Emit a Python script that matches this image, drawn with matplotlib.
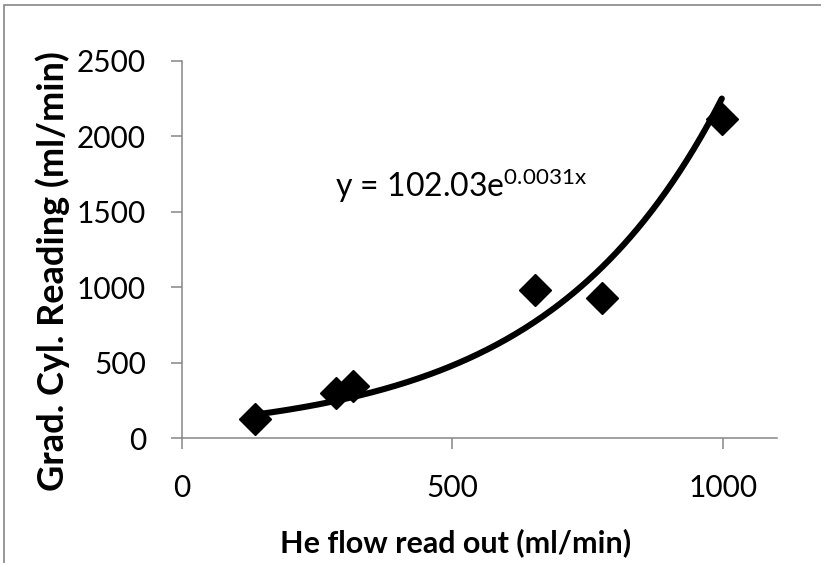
import numpy as np
import matplotlib
matplotlib.use("Agg")
import matplotlib.pyplot as plt
from matplotlib.patches import Rectangle

# data
he_flow = [135, 284, 317, 653, 777, 998]
grad_cyl = [126, 298, 345, 981, 928, 2115]

# exponential trendline as shown on the chart
FIT_A = 102.03
FIT_B = 0.0031
fit_label = r"y = 102.03e$\mathregular{^{0.0031x}}$"

x_ticks = [0, 500, 1000]
y_ticks = [0, 500, 1000, 1500, 2000, 2500]

AXIS_GRAY = "#868686"

plt.rcParams["font.family"] = ["Lato", "DejaVu Sans"]


def main():
    fig = plt.figure(figsize=(8.21, 5.63), dpi=100, facecolor="white")
    ax = fig.add_axes([182 / 821, 1 - 438 / 563, (777 - 182) / 821, (438 - 61) / 563])

    # chart area border (only top/left visible in the crop)
    fig.patches.append(
        Rectangle(
            (4 / 821, -0.5),
            2.0,
            (1 - 5 / 563) + 0.5,
            transform=fig.transFigure,
            fill=False,
            edgecolor=AXIS_GRAY,
            linewidth=1.2,
        )
    )

    xs = np.linspace(min(he_flow), max(he_flow), 200)
    ax.plot(xs, FIT_A * np.exp(FIT_B * xs), color="black", lw=4.4,
            solid_capstyle="round", zorder=3)
    ax.plot(he_flow, grad_cyl, linestyle="none", marker="D", markersize=16.5,
            color="black", zorder=4)

    ax.text(283, 1598, fit_label, fontsize=23, va="baseline", ha="left")

    ax.set_xlim(0, 1100)
    ax.set_ylim(0, 2500)
    ax.set_xticks(x_ticks)
    ax.set_yticks(y_ticks)

    for side in ["top", "right"]:
        ax.spines[side].set_visible(False)
    for side in ["left", "bottom"]:
        ax.spines[side].set_color(AXIS_GRAY)
        ax.spines[side].set_linewidth(1.1)
    ax.tick_params(direction="out", length=8, width=1.1, color=AXIS_GRAY,
                   labelsize=21.5, pad=18)

    ax.set_xlabel("He flow read out (ml/min)", fontsize=22, fontweight="bold")
    ax.xaxis.set_label_coords(0.46, -0.238)
    ax.set_ylabel("Grad. Cyl. Reading (ml/min)", fontsize=26, fontweight="bold")
    ax.yaxis.set_label_coords(-0.188, 0.443)

    fig.savefig("out.png", dpi=100, facecolor="white")
    plt.close(fig)


if __name__ == "__main__":
    main()
